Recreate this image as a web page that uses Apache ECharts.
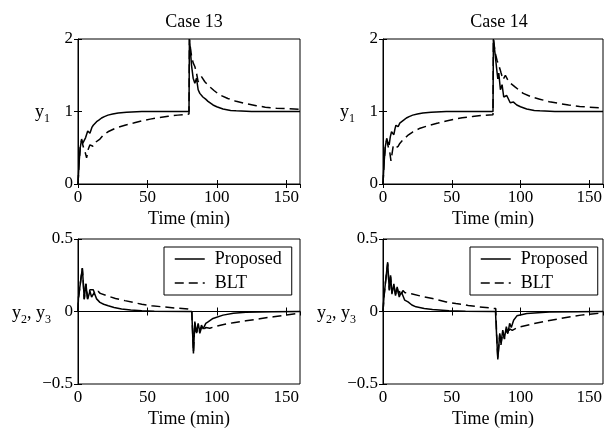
<!DOCTYPE html>
<html>
<head>
<meta charset="utf-8">
<script src="https://cdn.jsdelivr.net/npm/echarts@6/dist/echarts.min.js"></script>
<style>
  html, body { margin: 0; padding: 0; background: #fff; }
  #main { width: 605px; height: 429px; }
</style>
</head>
<body>
<div id="main"></div>
<script>
// Case 13 / 14, y1 (top row) and y2,y3 (bottom row); points are [time (min), value]
const case13Y1Proposed = [[0,0],[0.8,0.3],[1.6,0.5],[2.6,0.62],[3.4,0.56],[4.5,0.54],[5.5,0.64],[7,0.73],[8.6,0.7],[10,0.78],[11,0.81],[12,0.8],[13.4,0.86],[15,0.88],[17,0.91],[19,0.93],[21.6,0.95],[25,0.965],[29,0.98],[35,0.99],[46,1.0],[80,1.0],[80.3,2.0],[81,1.85],[81.8,1.64],[83,1.46],[84.2,1.39],[85.4,1.46],[86.6,1.3],[87.8,1.25],[88.8,1.27],[90,1.2],[92,1.17],[93.7,1.14],[97.3,1.09],[100,1.065],[104.5,1.035],[110,1.015],[114,1.01],[125,1.0],[160,1.0]];
const case13Y1Blt = [[0,0],[0.8,0.3],[1.6,0.5],[2.6,0.6],[4,0.5],[5,0.45],[6.2,0.36],[7.4,0.48],[8.6,0.54],[10,0.52],[10.8,0.52],[12.2,0.57],[13.4,0.59],[15.8,0.62],[18,0.67],[21.6,0.72],[27,0.77],[33.8,0.81],[40,0.84],[46,0.87],[52,0.895],[57.6,0.915],[65,0.935],[72,0.95],[80,0.965],[80.3,2.0],[81.5,1.8],[83,1.67],[84.2,1.62],[85.4,1.53],[86.6,1.41],[88,1.45],[89,1.48],[91.4,1.41],[95,1.34],[98,1.29],[102,1.23],[108,1.18],[114,1.14],[121,1.11],[128.5,1.08],[135,1.06],[143,1.045],[150,1.04],[160,1.03]];
const case14Y1Proposed = [[0,0],[0.8,0.3],[1.7,0.52],[2.7,0.63],[3.6,0.57],[4.5,0.54],[5.3,0.65],[6.2,0.72],[7.1,0.7],[7.9,0.68],[8.7,0.76],[9.4,0.81],[10.2,0.79],[11,0.79],[12.2,0.84],[13.4,0.86],[15,0.88],[17,0.91],[19,0.93],[21.6,0.95],[25,0.965],[29,0.98],[35,0.99],[46,1.0],[80,1.0],[80.3,2.0],[81.5,1.8],[82.6,1.6],[83.5,1.45],[84.2,1.53],[85.4,1.3],[86.6,1.37],[87.8,1.2],[90,1.22],[92.5,1.12],[94.9,1.13],[97.3,1.09],[100,1.065],[104.5,1.035],[110,1.015],[114,1.01],[125,1.0],[160,1.0]];
const case14Y1Blt = [[0,0],[0.8,0.3],[1.7,0.52],[2.7,0.6],[4,0.5],[5,0.43],[5.8,0.32],[7.4,0.52],[8.6,0.49],[9.8,0.47],[11,0.52],[12.2,0.56],[14.6,0.61],[18,0.67],[21.8,0.72],[27,0.77],[33.8,0.81],[40,0.84],[46,0.87],[52,0.895],[57.6,0.915],[65,0.93],[72,0.945],[80,0.955],[80.3,2.0],[81.5,1.82],[83,1.7],[84.2,1.64],[85.9,1.53],[87.3,1.44],[89,1.5],[91.4,1.41],[96,1.34],[102,1.25],[108,1.2],[114,1.17],[121,1.135],[128.5,1.11],[135,1.09],[143,1.07],[150,1.06],[160,1.05]];

const case13Y23Proposed = [[0,0],[0.3,0.09],[1.5,0.18],[3.1,0.3],[3.8,0.2],[4.5,0.085],[5.7,0.19],[6.9,0.085],[8.6,0.14],[9.8,0.1],[11.7,0.13],[13.4,0.087],[15.8,0.063],[18.5,0.05],[21.8,0.04],[26,0.028],[31.4,0.017],[38,0.01],[46,0.006],[55,0.002],[82,0],[82.6,-0.15],[83.2,-0.29],[84.2,-0.07],[85.4,-0.15],[86.6,-0.082],[87.8,-0.14],[89,-0.094],[90.2,-0.12],[92.1,-0.082],[94,-0.07],[97.3,-0.048],[104.5,-0.025],[112,-0.012],[121,-0.005],[140,-0.001],[160,0]];
const case13Y23Blt = [[0,0],[0.3,0.09],[1.5,0.18],[3.1,0.3],[3.8,0.2],[4.5,0.085],[5.7,0.19],[6.9,0.09],[8.6,0.15],[9.8,0.14],[11,0.15],[12.2,0.12],[13.4,0.11],[14.5,0.14],[16,0.125],[20.4,0.11],[27,0.09],[33.8,0.075],[40,0.062],[46,0.05],[53,0.04],[60,0.033],[70,0.024],[79.4,0.017],[82,0.012],[82.6,-0.14],[83.2,-0.28],[84.2,-0.08],[85.4,-0.16],[86.6,-0.09],[87.8,-0.15],[89,-0.11],[90.2,-0.13],[92.1,-0.11],[95,-0.115],[98.5,-0.105],[105,-0.09],[112,-0.077],[121,-0.064],[131,-0.05],[141,-0.036],[150,-0.024],[160,-0.012]];
const case14Y23Proposed = [[0,0],[0.7,0.1],[1.8,0.2],[3.4,0.34],[4,0.24],[4.6,0.146],[5.5,0.25],[6.5,0.12],[7.9,0.19],[9.1,0.11],[10.3,0.17],[11.8,0.1],[13.4,0.135],[15.8,0.078],[18.2,0.066],[21,0.045],[24,0.032],[30,0.021],[36,0.014],[48,0.005],[60,0.001],[81.8,0],[82.7,-0.18],[83.5,-0.33],[84.9,-0.15],[85.8,-0.22],[87.1,-0.128],[88.3,-0.185],[89.7,-0.105],[90.9,-0.15],[92.1,-0.082],[93.3,-0.11],[95,-0.06],[97.4,-0.03],[104.6,-0.014],[121,-0.003],[160,0]];
const case14Y23Blt = [[0,0],[0.7,0.1],[1.8,0.2],[3.4,0.33],[4,0.24],[4.6,0.15],[5.5,0.24],[6.5,0.13],[7.9,0.18],[9.1,0.12],[10.3,0.16],[11.5,0.12],[12.5,0.15],[13.5,0.12],[14.5,0.145],[16,0.13],[20.6,0.123],[28,0.105],[36,0.089],[46,0.066],[53,0.055],[62,0.042],[70,0.032],[78,0.024],[82,0.02],[82.7,-0.17],[83.5,-0.32],[84.9,-0.16],[85.8,-0.23],[87.1,-0.14],[88.3,-0.19],[89.7,-0.12],[90.9,-0.16],[92.1,-0.12],[94,-0.13],[97,-0.115],[99.8,-0.105],[110,-0.083],[120,-0.064],[131,-0.045],[144,-0.025],[152,-0.017],[160,-0.01]];

const titles = ['Case 13', 'Case 14'];
const seriesNames = ['Proposed', 'BLT'];
const xTicks = { min: 0, max: 160, interval: 50 };
const y1Ticks = { min: 0, max: 2, interval: 1 };
const y23Ticks = { min: -0.5, max: 0.5, interval: 0.5 };

const FONT = 'Liberation Serif';
const chart = echarts.init(document.getElementById('main'));

// panel boxes: [left, top, width, height]
const panels = [
  { box: [78, 39, 222, 145], ticks: y1Ticks, data: [case13Y1Proposed, case13Y1Blt] },
  { box: [383, 39, 221, 145], ticks: y1Ticks, data: [case14Y1Proposed, case14Y1Blt] },
  { box: [78, 239, 222, 146], ticks: y23Ticks, data: [case13Y23Proposed, case13Y23Blt] },
  { box: [383, 239, 221, 146], ticks: y23Ticks, data: [case14Y23Proposed, case14Y23Blt] }
];

const grid = [], xAxis = [], yAxis = [], series = [];
const tickStyle = { show: true, inside: true, length: 4, lineStyle: { color: '#000', width: 1 } };
const fmt = v => (v < 0 ? '\u2212' + Math.abs(v) : String(v));

panels.forEach((p, i) => {
  grid.push({ left: p.box[0], top: p.box[1], width: p.box[2], height: p.box[3],
    show: true, borderColor: '#000', borderWidth: 1, backgroundColor: '#fff' });
  // bottom / left axes with labels
  xAxis.push({ type: 'value', gridIndex: i, min: xTicks.min, max: xTicks.max, interval: xTicks.interval,
    name: 'Time (min)', nameLocation: 'middle', nameGap: 26,
    nameTextStyle: { fontFamily: FONT, fontSize: 18, color: '#000' },
    axisLine: { show: true, lineStyle: { color: '#000' } }, axisTick: tickStyle,
    axisLabel: { fontFamily: FONT, fontSize: 17, color: '#000', margin: 5, showMaxLabel: false },
    splitLine: { show: false } });
  yAxis.push({ type: 'value', gridIndex: i, min: p.ticks.min, max: p.ticks.max, interval: p.ticks.interval,
    axisLine: { show: true, lineStyle: { color: '#000' } }, axisTick: tickStyle,
    axisLabel: { fontFamily: FONT, fontSize: 17, color: '#000', margin: 5, formatter: fmt },
    splitLine: { show: false } });
  // top / right mirror axes, ticks only
  xAxis.push({ type: 'value', gridIndex: i, position: 'top', min: xTicks.min, max: xTicks.max, interval: xTicks.interval,
    axisLine: { show: false }, axisTick: tickStyle, axisLabel: { show: false }, splitLine: { show: false } });
  yAxis.push({ type: 'value', gridIndex: i, position: 'right', min: p.ticks.min, max: p.ticks.max, interval: p.ticks.interval,
    axisLine: { show: false }, axisTick: tickStyle, axisLabel: { show: false }, splitLine: { show: false } });

  p.data.forEach((d, k) => {
    series.push({
      name: seriesNames[k], type: 'line', xAxisIndex: i * 2, yAxisIndex: i * 2,
      data: d, symbol: 'none', showSymbol: false, animation: false,
      lineStyle: { color: '#000', width: 1.5, type: k === 0 ? 'solid' : [9, 5] },
      itemStyle: { color: '#000' }
    });
  });
});

const legendBase = {
  orient: 'vertical', data: seriesNames, selectedMode: false,
  backgroundColor: '#fff', borderColor: '#000', borderWidth: 1, borderRadius: 0,
  padding: [3, 10, 3, 10], itemGap: 6, itemWidth: 30, itemHeight: 18,
  itemStyle: { opacity: 0 },
  lineStyle: { width: 1.5 },
  textStyle: { fontFamily: FONT, fontSize: 18, color: '#000', padding: [0, 0, 0, 5] }
};

const yLabelRich = {
  a: { fontFamily: FONT, fontSize: 18, color: '#000', lineHeight: 26 },
  b: { fontFamily: FONT, fontSize: 12, color: '#000', verticalAlign: 'bottom', lineHeight: 14 }
};

chart.setOption({
  backgroundColor: '#fff',
  animation: false,
  title: titles.map((t, i) => ({
    text: t, left: i === 0 ? 189 : 494, top: 8, textAlign: 'center',
    textStyle: { fontFamily: FONT, fontSize: 18, fontWeight: 'normal', color: '#000' }
  })),
  legend: [
    Object.assign({ left: 164, top: 247 }, legendBase),
    Object.assign({ left: 470, top: 247 }, legendBase)
  ],
  grid: grid,
  xAxis: xAxis,
  yAxis: yAxis,
  series: series,
  graphic: [
    { type: 'text', x: 35, y: 112, style: { text: '{a|y}{b|1}', verticalAlign: 'middle', rich: yLabelRich } },
    { type: 'text', x: 340, y: 112, style: { text: '{a|y}{b|1}', verticalAlign: 'middle', rich: yLabelRich } },
    { type: 'text', x: 12, y: 313, style: { text: '{a|y}{b|2}{a|, y}{b|3}', verticalAlign: 'middle', rich: yLabelRich } },
    { type: 'text', x: 317, y: 313, style: { text: '{a|y}{b|2}{a|, y}{b|3}', verticalAlign: 'middle', rich: yLabelRich } }
  ]
});
</script>
</body>
</html>
